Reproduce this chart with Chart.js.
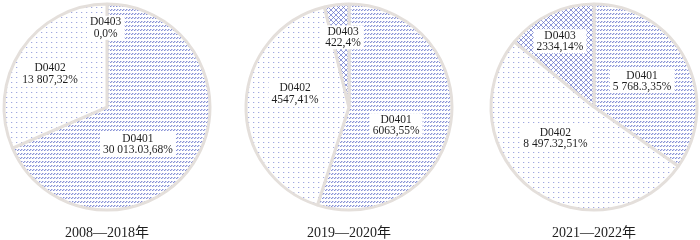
<!DOCTYPE html>
<html>
<head>
<meta charset="utf-8">
<script src="https://cdn.jsdelivr.net/npm/chart.js@4.4.1/dist/chart.umd.min.js"></script>
<style>
  html, body { margin: 0; padding: 0; background: #fff; overflow: hidden; }
  #wrap { position: relative; width: 700px; height: 240px; overflow: hidden; }
  #wrap canvas { position: absolute; top: 0; }
</style>
</head>
<body>
<div id="wrap">
  <canvas id="c1" width="216" height="242" style="left:-1px"></canvas>
  <canvas id="c2" width="216" height="242" style="left:241px"></canvas>
  <canvas id="c3" width="216" height="242" style="left:486px"></canvas>
</div>
<script>
// categories (same for all three periods)
const categories = ['D0401', 'D0402', 'D0403'];
const periods = ['2008—2018年', '2019—2020年', '2021—2022年'];

// values
const values2008 = [30013.03, 13807, 0];
const values2019 = [6063, 4547, 422];
const values2021 = [5768.3, 8497.32, 2334];

// label placement: [angle shift in degrees, distance as fraction of radius]
const place2008 = [[17, 0.47], [-3, 0.64], [-1, 0.77]];
const place2019 = [[12, 0.49], [12, 0.54], [2, 0.68]];
const place2021 = [[-1, 0.53], [14, 0.48], [-2, 0.72]];

const BLUE = 'rgba(84, 98, 196, ';

function tile(w, h, draw) {
    const c = document.createElement('canvas');
    c.width = w; c.height = h;
    const g = c.getContext('2d');
    g.fillStyle = '#fff';
    g.fillRect(0, 0, w, h);
    draw(g);
    return g.createPattern(c, 'repeat');
}

// D0401: rows of small slashes
function hatchRows(ctx) {
    return tile(3, 4, g => {
        g.fillStyle = BLUE + '0.7)';
        g.fillRect(0, 2, 1, 1);
        g.fillRect(1, 1, 1, 1);
        g.fillStyle = BLUE + '0.3)';
        g.fillRect(2, 1, 1, 1);
        g.fillRect(1, 2, 1, 1);
    });
}
// D0402: sparse dots
function dots(ctx) {
    return tile(5, 5, g => {
        g.fillStyle = BLUE + '0.55)';
        g.fillRect(2, 2, 1, 1);
        g.fillStyle = BLUE + '0.15)';
        g.fillRect(3, 2, 1, 1);
    });
}
// D0403: diagonal crosshatch
function crossHatch(ctx) {
    return tile(5, 5, g => {
        g.strokeStyle = BLUE + '0.65)';
        g.lineWidth = 1;
        g.beginPath();
        g.moveTo(0, 0); g.lineTo(5, 5);
        g.moveTo(5, 0); g.lineTo(0, 5);
        g.stroke();
    });
}

function fmt(v) {
    const parts = String(v).split('.');
    let intPart = parts[0];
    if (v >= 10000 || parts.length > 1) {
        intPart = intPart.replace(/\B(?=(\d{3})+(?!\d))/g, ' ');
    }
    return parts.length > 1 ? intPart + '.' + parts[1] : intPart;
}

const sliceLabels = {
    id: 'sliceLabels',
    afterDatasetsDraw(chart, args, opts) {
        const ctx = chart.ctx;
        const data = chart.data.datasets[0].data;
        const total = data.reduce((a, b) => a + b, 0);
        const meta = chart.getDatasetMeta(0);
        ctx.save();
        ctx.font = '11.5px "Liberation Serif", "Times New Roman", serif';
        ctx.textAlign = 'center';
        ctx.textBaseline = 'middle';
        meta.data.forEach((arc, i) => {
            const p = arc.getProps(['x', 'y', 'startAngle', 'endAngle', 'outerRadius'], true);
            const pl = opts.place[i];
            const a = (p.startAngle + p.endAngle) / 2 + pl[0] * Math.PI / 180;
            const d = p.outerRadius * pl[1];
            const x = p.x + Math.cos(a) * d;
            const y = p.y + Math.sin(a) * d;
            const lines = [chart.data.labels[i], fmt(data[i]) + ',' + Math.round(data[i] / total * 100) + '%'];
            const w = Math.max(...lines.map(t => ctx.measureText(t).width));
            ctx.fillStyle = '#fff';
            ctx.fillRect(x - w / 2 - 3, y - 12, w + 6, 24);
            ctx.fillStyle = '#1e1e1e';
            ctx.fillText(lines[0], x, y - 5.5);
            ctx.fillText(lines[1], x, y + 6);
        });
        ctx.restore();
    }
};

function makePie(id, values, title, place) {
    const ctx = document.getElementById(id).getContext('2d');
    return new Chart(ctx, {
        type: 'pie',
        data: {
            labels: categories,
            datasets: [{
                data: values,
                backgroundColor: [hatchRows(ctx), dots(ctx), crossHatch(ctx)],
                borderColor: '#e4dfdb',
                borderWidth: 3
            }]
        },
        options: {
            responsive: false,
            animation: false,
            radius: 103,
            layout: { padding: 0 },
            plugins: {
                legend: { display: false },
                tooltip: { enabled: false },
                title: {
                    display: true,
                    position: 'bottom',
                    text: title,
                    color: '#1e1e1e',
                    font: { family: '"Liberation Serif", "Noto Sans CJK SC", serif', size: 14, weight: 'normal' },
                    padding: { top: 11, bottom: 0 }
                },
                sliceLabels: { place: place }
            }
        },
        plugins: [sliceLabels]
    });
}

window.onload = function() {
    makePie('c1', values2008, periods[0], place2008);
    makePie('c2', values2019, periods[1], place2019);
    makePie('c3', values2021, periods[2], place2021);
};
</script>
</body>
</html>
